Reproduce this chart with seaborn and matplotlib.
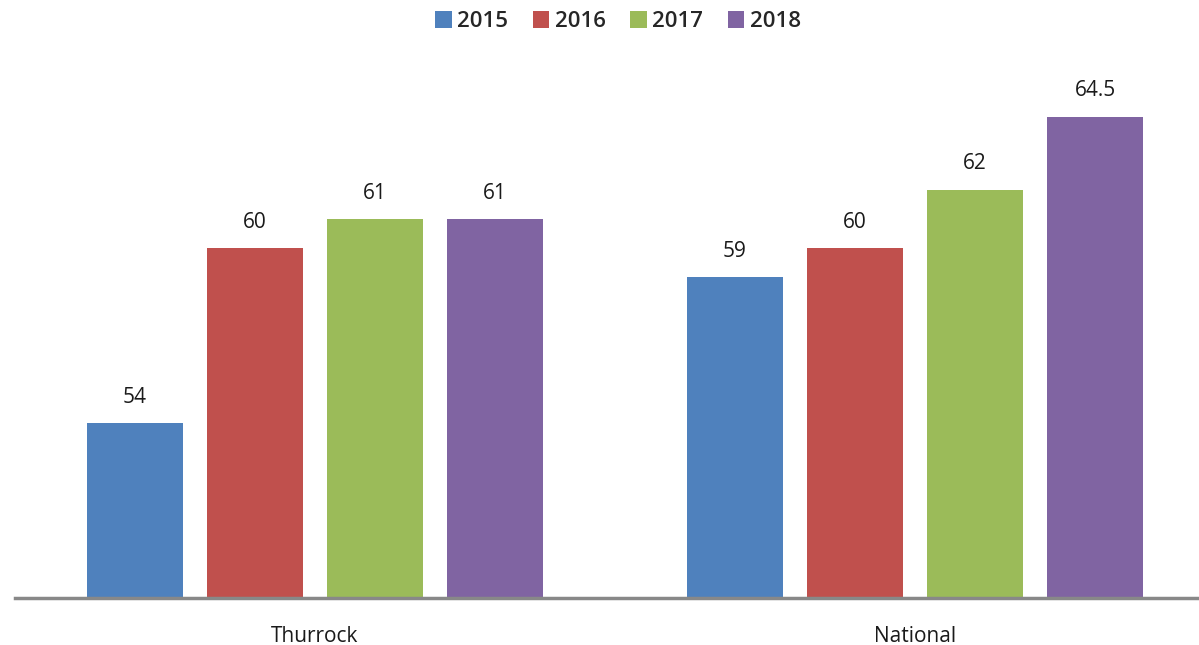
import pandas as pd
import matplotlib
matplotlib.use("Agg")
import matplotlib.pyplot as plt
import seaborn as sns

areas = ["Thurrock", "National"]
years = ["2015", "2016", "2017", "2018"]
thurrock = [54, 60, 61, 61]
national = [59, 60, 62, 64.5]
colors = ["#4F81BD", "#C0504D", "#9BBB59", "#8064A2"]

df = pd.DataFrame({
    "area": [areas[0]] * 4 + [areas[1]] * 4,
    "year": years * 2,
    "value": thurrock + national,
})

sns.set_style("white")
plt.rcParams["font.family"] = ["Open Sans", "DejaVu Sans"]

fig = plt.figure(figsize=(11.99, 6.45), dpi=100)
ax = fig.add_axes([15 / 1199, 47 / 645, 1200 / 1199, (598 - 73) / 645])

sns.barplot(data=df, x="area", y="value", hue="year", palette=colors,
            width=0.8, gap=0.2, saturation=1, linewidth=0, ax=ax, legend=True)

ax.set_ylim(48, 66)
ax.set_xlim(-0.5, 1.5)
for c in ax.containers:
    ax.bar_label(c, labels=[f"{v:g}" for v in c.datavalues], padding=11,
                 fontsize=15, color="#1a1a1a")

sns.despine(ax=ax, left=True, top=True, right=True)
ax.spines["bottom"].set_color("#888888")
ax.spines["bottom"].set_linewidth(2.5)
ax.set_yticks([])
ax.set_xlabel("")
ax.set_ylabel("")
ax.tick_params(axis="x", length=0, pad=20, labelsize=15, labelcolor="#1a1a1a")

ax.legend(loc="upper center", bbox_to_anchor=(618 / 1199, 1.0), bbox_transform=fig.transFigure,
          ncol=4, frameon=False, prop={"size": 16, "weight": "semibold"},
          handlelength=0.75, handleheight=0.75,
          handletextpad=0.25, columnspacing=1.1, borderaxespad=0.1)

fig.savefig("out.png", dpi=100)
